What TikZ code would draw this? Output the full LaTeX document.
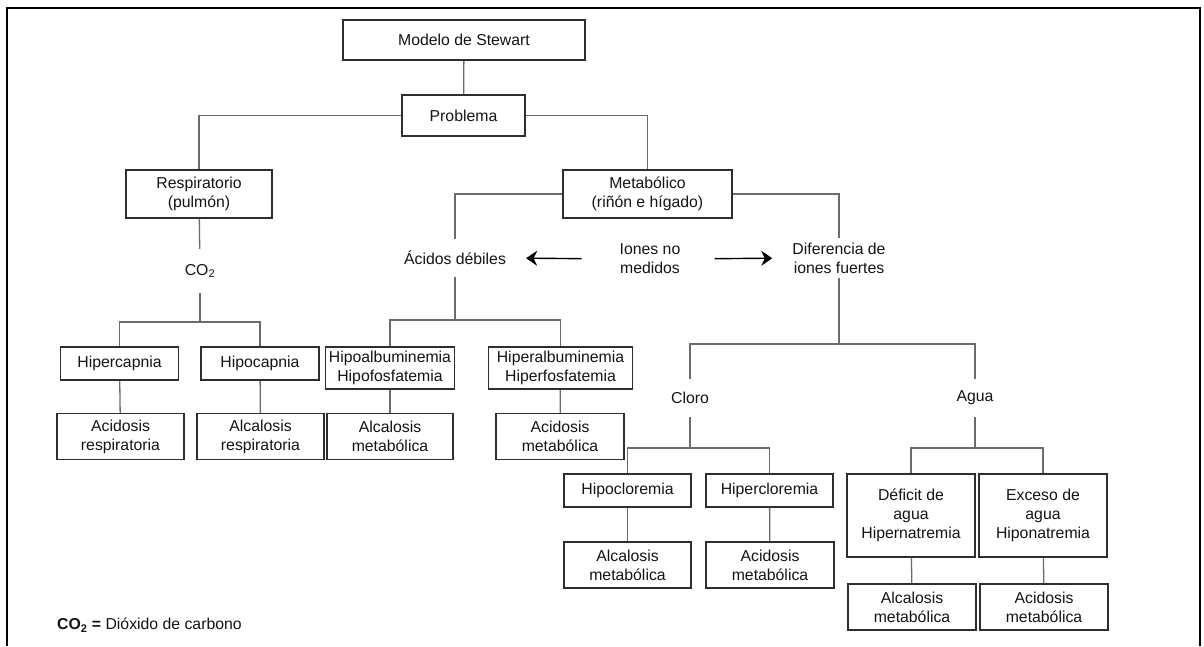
\documentclass[tikz,border=0pt]{standalone}
\usepackage{fontspec}
\setmainfont{Liberation Sans}
\usetikzlibrary{arrows.meta, positioning}
\definecolor{textBlack}{gray}{0.08}
\definecolor{boxBlack}{gray}{0.18}
\definecolor{lineGray}{gray}{0.42}

\tikzset{
    box/.style={draw=boxBlack, line width=1.4pt, align=center, inner sep=0pt,
        text=textBlack, font=\fontsize{15.8}{19}\selectfont},
    tag/.style={align=center, inner sep=0pt, minimum height=37pt,
        text=textBlack, font=\fontsize{15.8}{19}\selectfont},
    link/.style={draw=lineGray, line width=1.3pt},
    pointer/.style={draw=black, line width=1.4pt, -{Stealth[length=11pt, width=15pt]}},
}

\begin{document}
\begin{tikzpicture}[x=1pt, y=-1pt]
    \useasboundingbox (0,0) rectangle (1204,646);
    \draw[line width=2.8pt, line join=miter] (7,646) -- (7,8) -- (1200,8) -- (1200,646);

    % Raiz
    \node[box, minimum width=242pt, minimum height=40pt] (model) at (464,40) {Modelo de Stewart};
    \node[box, minimum width=123pt, minimum height=41pt] (prob) at (463.5,115.5) {Problema};
    \node[box, minimum width=146pt, minimum height=48pt] (resp) at (199,194) {Respiratorio\\(pulmón)};
    \node[box, minimum width=169pt, minimum height=48pt] (meta) at (647.5,194) {Metabólico\\(riñón e hígado)};
    \draw[link] (model) -- (prob);
    \draw[link] (prob.west) -| (resp.north);
    \draw[link] (prob.east) -| (meta.north);

    % Respiratorio
    \node[tag, minimum height=44pt] (co2) at (200,271) {CO\textsubscript{2}};
    \coordinate (co2Bar) at (200,322);
    \node[box, minimum width=118pt, minimum height=33pt] (hipercap) at (119.5,363.5) {Hipercapnia};
    \node[box, minimum width=118pt, minimum height=33pt] (hipocap) at (260,363.5) {Hipocapnia};
    \node[box, minimum width=127pt, minimum height=46pt] (acResp) at (120.5,436.5) {Acidosis\\respiratoria};
    \node[box, minimum width=127pt, minimum height=46pt] (alResp) at (260.5,436.5) {Alcalosis\\respiratoria};
    \draw[link] (resp) -- (co2);
    \draw[link] (co2) -- (co2Bar);
    \draw[link] (hipercap.north) |- (co2Bar) -| (hipocap.north);
    \draw[link] (hipercap) -- (acResp);
    \draw[link] (hipocap) -- (alResp);

    % Acidos debiles
    \node[tag] (acid) at (455,258) {Ácidos débiles};
    \node[tag] (iones) at (650,259) {Iones no\\medidos};
    \node[tag, minimum height=40pt] (dif) at (839,258) {Diferencia de\\iones fuertes};
    \draw[link] (meta.west) -| (acid.north);
    \draw[link] (meta.east) -| (dif.north);
    \draw[pointer, shorten <=38pt, shorten >=20pt] (iones.west) -- (acid.east);
    \draw[pointer, shorten <=34pt, shorten >=20pt] (iones.east) -- (dif.west);

    \coordinate (acidBar) at (455,320);
    \node[box, minimum width=129pt, minimum height=42pt] (hipoAlb) at (390,368) {Hipoalbuminemia\\Hipofosfatemia};
    \node[box, minimum width=144pt, minimum height=42pt] (hiperAlb) at (560.5,368) {Hiperalbuminemia\\Hiperfosfatemia};
    \node[box, minimum width=126pt, minimum height=46pt] (alMetaA) at (390,436.5) {Alcalosis\\metabólica};
    \node[box, minimum width=128pt, minimum height=46pt] (acMetaA) at (560,436.5) {Acidosis\\metabólica};
    \draw[link] (acid) -- (acidBar);
    \draw[link] (hipoAlb.north) |- (acidBar) -| (hiperAlb.north);
    \draw[link] (hipoAlb) -- (alMetaA);
    \draw[link] (hiperAlb) -- (acMetaA);

    % Diferencia de iones fuertes
    \coordinate (difBar) at (839,344);
    \node[tag] (cloro) at (690,398) {Cloro};
    \node[tag] (agua) at (975,398) {Agua};
    \draw[link] (dif) -- (difBar);
    \draw[link] (cloro.north) |- (difBar) -| (agua.north);

    % Cloro
    \coordinate (cloroBar) at (690,448);
    \node[box, minimum width=127pt, minimum height=33pt] (hipoCl) at (627.5,490.5) {Hipocloremia};
    \node[box, minimum width=127pt, minimum height=33pt] (hiperCl) at (769.5,490.5) {Hipercloremia};
    \node[box, minimum width=127pt, minimum height=46pt] (alMetaB) at (627.5,565) {Alcalosis\\metabólica};
    \node[box, minimum width=128pt, minimum height=46pt] (acMetaB) at (770,565) {Acidosis\\metabólica};
    \draw[link] (cloro) -- (cloroBar);
    \draw[link] (hipoCl.north) |- (cloroBar) -| (hiperCl.north);
    \draw[link] (hipoCl) -- (alMetaB);
    \draw[link] (hiperCl) -- (acMetaB);

    % Agua
    \coordinate (aguaBar) at (975,448);
    \node[box, minimum width=128pt, minimum height=83pt] (deficit) at (911,515.5) {Déficit de\\agua\\Hipernatremia};
    \node[box, minimum width=128pt, minimum height=83pt] (exceso) at (1043,515.5) {Exceso de\\agua\\Hiponatremia};
    \node[box, minimum width=128pt, minimum height=46pt] (alMetaC) at (912,607) {Alcalosis\\metabólica};
    \node[box, minimum width=128pt, minimum height=46pt] (acMetaC) at (1044,607) {Acidosis\\metabólica};
    \draw[link] (agua) -- (aguaBar);
    \draw[link] (deficit.north) |- (aguaBar) -| (exceso.north);
    \draw[link] (deficit) -- (alMetaC);
    \draw[link] (exceso) -- (acMetaC);

    % Nota
    \node[anchor=west, inner sep=0pt, text=textBlack, font=\fontsize{15.8}{19}\selectfont] (nota) at (57,625)
        {\textbf{CO\textsubscript{2} =} Dióxido de carbono};
\end{tikzpicture}
\end{document}
